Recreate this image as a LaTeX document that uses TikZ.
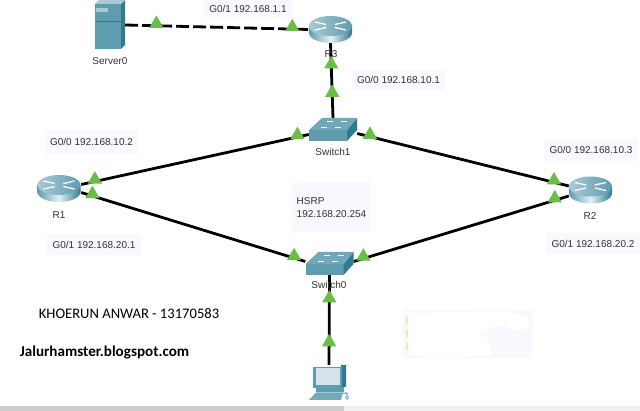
\documentclass[tikz,border=0pt]{standalone}
\usepackage{fontspec}
\setmainfont{Liberation Sans}
\newfontfamily\notefont{Carlito}
\usetikzlibrary{shapes.geometric,backgrounds}
\definecolor{boxfill}{HTML}{F8F8FF}
\definecolor{devfront}{HTML}{5F9CB0}
\definecolor{devside}{HTML}{2F7A90}
\definecolor{devtop}{HTML}{A9CAD5}
\definecolor{portgreen}{HTML}{6ABD45}
\definecolor{labeltext}{HTML}{333333}
\definecolor{patchmark}{HTML}{FFE3A0}
\tikzset{
  devnode/.style={inner sep=0, minimum width=#1},
  devname/.style={text=labeltext, inner sep=0},
  iface/.style={fill=boxfill, text=labeltext, inner sep=0},
  link/.style={line width=2.8pt, black},
  port/.style={regular polygon, regular polygon sides=3, fill=portgreen, minimum size=16.6pt, inner sep=0, yshift=2pt},
  routericon/.pic={
    \shade[left color=devfront, right color=devside, middle color=white!70!devtop]
      (-21.5,-3.5) -- (-21.5,3.5) arc[start angle=180, end angle=360, x radius=21.5, y radius=-10]
      -- (21.5,-3.5) -- cycle;
    \shade[left color=devtop, right color=devfront] (0,-3.5) ellipse[x radius=21.5, y radius=10];
    \foreach \a in {30,150,210,330}
      \draw[white, line width=1.3pt] (\a:5 and 3) ++(0,-3.5) -- ++(\a:13 and 5);
  },
  switchicon/.pic={
    \fill[devfront] (-24,.5) rectangle (14,11.5);
    \fill[devside] (14,.5) -- (24,-11.5) -- (24,.5) -- (14,11.5) -- cycle;
    \fill[devfront!75!devtop] (-24,.5) -- (-11,-11.5) -- (24,-11.5) -- (14,.5) -- cycle;
    \foreach \x/\y in {-12/-2,2/-2,-6/-8,8/-8}
      \draw[white, line width=.8pt] (\x,\y) -- ++(6,0);
  },
  servericon/.pic={
    \fill[devfront] (-15,-21) rectangle (11,24);
    \fill[devside] (11,-21) -- (15,-25) -- (15,20) -- (11,24) -- cycle;
    \fill[devtop] (-15,-21) -- (-11,-25) -- (15,-25) -- (11,-21) -- cycle;
    \fill[devtop] (-14,-17) rectangle (-2,-13);
    \draw[devside] (-15,-4) -- (11,-4);
  },
  pcicon/.pic={
    \fill[devside] (12,-17.5) -- (17,-17.5) -- (17,4) -- (12,6) -- cycle;
    \fill[devfront] (-16,-15.5) rectangle (13,6);
    \fill[devtop!50!white] (-13,-14) rectangle (11,3);
    \fill[devfront] (-13,6) rectangle (15,10);
    \fill[devfront!70!devtop] (-20,17.5) -- (-13,10) -- (14,10) -- (12,17.5) -- cycle;
    \draw[devfront, line width=1pt] (14,11) .. controls (19,9) and (19,12) .. (18,14);
    \fill[devtop] (18,15) ellipse[x radius=2, y radius=2.5];
  }
}
\begin{document}
\begin{tikzpicture}[x=1pt, y=-1pt]
  \useasboundingbox (0,0) rectangle (640,411);

  % interface boxes
  \node[iface, minimum width=88, minimum height=17] (labelthreeb) at (248,8.5) {G0/1 192.168.1.1};
  \node[iface, minimum width=93, minimum height=20] (labelthreea) at (398.5,80) {G0/0 192.168.10.1};
  \node[iface, minimum width=93, minimum height=24] (labelonea) at (91.5,142) {G0/0 192.168.10.2};
  \node[iface, minimum width=94, minimum height=21] (labeloneb) at (94,244.5) {G0/1 192.168.20.1};
  \node[iface, minimum width=94, minimum height=22] (labeltwoa) at (591,150) {G0/0 192.168.10.3};
  \node[iface, minimum width=94, minimum height=21] (labeltwob) at (593,243.5) {G0/1 192.168.20.2};
  \node[iface, minimum width=79, minimum height=49, align=left] (labelhsrp) at (331.5,207.5) {HSRP\\[1pt]192.168.20.254};

  % devices
  \node[devnode=30, minimum height=49] (Server) at (110,25) {};
  \node[devnode=43, minimum height=27] (R3) at (330.5,29.5) {};
  \node[devnode=48, minimum height=23] (Switch1) at (333,129.5) {};
  \node[devnode=44, minimum height=27] (R1) at (59,188.5) {};
  \node[devnode=43, minimum height=28] (R2) at (590.5,190) {};
  \node[devnode=48, minimum height=23] (Switch0) at (329.5,263.5) {};
  \node[devnode=36, minimum height=35] (PC) at (329,382.5) {};

  % links
  \draw[link, dash pattern=on 13pt off 4pt] (Server.east) -- (R3.west)
    node[port, pos=.17] (portsa) {} node[port, pos=.91] (portsb) {};
  \draw[link] (R3.south) -- (Switch1.north)
    node[port, pos=.31] (portta) {} node[port, pos=.69] (porttb) {};
  \draw[link] ([yshift=4pt]R1.east) -- ([yshift=-5pt]Switch1.west)
    node[port, pos=.06] (portua) {} node[port, pos=.95] (portub) {};
  \draw[link] ([yshift=-4pt]R1.east) -- ([yshift=2pt]Switch0.west)
    node[port, pos=.05] (portva) {} node[port, pos=.95] (portvb) {};
  \draw[link] ([yshift=-4pt]Switch1.east) -- ([yshift=4pt]R2.west)
    node[port, pos=.06] (portwa) {} node[port, pos=.93] (portwb) {};
  \draw[link] ([yshift=-6pt]R2.west) -- ([yshift=2pt]Switch0.east)
    node[port, pos=.065] (portxa) {} node[port, pos=.955] (portxb) {};
  \draw[link] (Switch0.south) -- (PC.north)
    node[port, pos=.28] (portya) {} node[port, pos=.77] (portyb) {};

  \pic at (Server) {servericon};
  \pic at (R3) {routericon};
  \pic at (R1) {routericon};
  \pic at (R2) {routericon};
  \pic at (Switch1) {switchicon};
  \pic at (Switch0) {switchicon};
  \pic at (PC) {pcicon};

  \node[devname] (nameserver) at (110,61) {Server0};
  \node[devname] (namethree) at (331,54) {R3};
  \node[devname] (nameone) at (59,215) {R1};
  \node[devname] (nametwo) at (590,216) {R2};
  \node[devname] (nameswone) at (333,152) {Switch1};
  \node[devname] (nameswzero) at (329,285) {Switch0};

  % notes
  \node[inner sep=0, font=\notefont\fontsize{14.6}{17}\selectfont] (author) at (129,314) {KHOERUN ANWAR - 13170583};
  \node[inner sep=0, font=\notefont\bfseries\fontsize{15.1}{17}\selectfont] (blog) at (104.5,352) {Jalurhamster.blogspot.com};

  % leftover patch and scroll bar
  \fill[boxfill] (403,310) rectangle (532,358);
  \fill[white] (408,313) -- (505,311) -- (528,317) -- (530,328) -- (515,331) -- (502,325) -- (482,330) -- (478,335)
    -- (487,337) -- (492,355) -- (465,357) -- (428,357) -- (408,355) -- cycle;
  \foreach \y in {317,330,343}
    \fill[patchmark] (406,\y) rectangle (408,\y+7.5);
  \fill[black!20] (0,406) rectangle (344,411);
  \fill[black!6] (344,406) rectangle (640,411);
\end{tikzpicture}
\end{document}
